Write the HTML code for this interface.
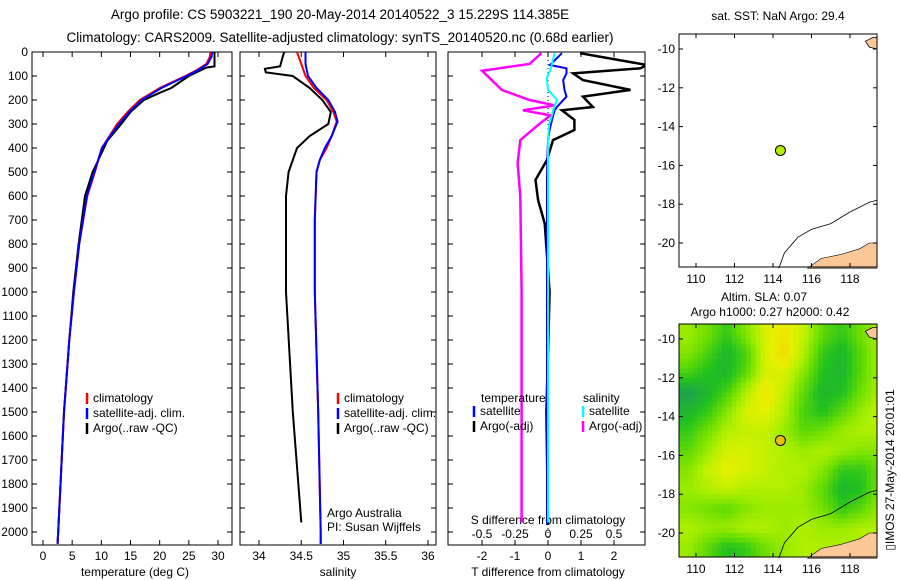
<!DOCTYPE html>
<html><head><meta charset="utf-8"><style>
body{margin:0;background:#fff}
svg{display:block;font-family:"Liberation Sans",sans-serif;font-size:12px}
</style></head><body>
<svg id="c" width="900" height="580" viewBox="0 0 900 580">
<text x="340" y="19" text-anchor="middle" style="font-size:13.5px">Argo profile: CS 5903221_190 20-May-2014 20140522_3 15.229S 114.385E</text>
<text x="340" y="42" text-anchor="middle" style="font-size:13.5px">Climatology: CARS2009. Satellite-adjusted climatology: synTS_20140520.nc (0.68d earlier)</text>
<g id="g"></g>
<text transform="translate(894,470) rotate(-90)" text-anchor="middle">▯IMOS 27-May-2014 20:01:01</text>
</svg>
<script>
// ---- data ----
const tClimDepth=[0,20,50,75,100,150,200,250,300,400,500,600,800,1000,1200,1500,2000,2050];
const tClim=[28.7,28.6,28.0,26.4,24.4,20.0,16.6,14.5,12.7,10.1,8.9,7.6,6.2,5.3,4.5,3.6,2.6,2.5];
const tSat=[29.0,28.9,28.2,26.6,24.6,20.3,16.9,14.8,13.0,10.1,8.8,7.5,6.2,5.3,4.5,3.6,2.6,2.5];
const tArgoDepth=[0,60,65,100,150,170,200,250,300,370,450,500,600,800,1000,1200,1500,2000,2040];
const tArgo=[29.4,29.4,28.0,25.0,22.0,20.0,17.3,15.0,13.4,11.0,9.5,8.5,7.2,6.1,5.2,4.5,3.6,2.6,2.5];
const sDepth=[0,50,100,150,200,250,290,350,400,450,500,700,1000,1500,2000,2050];
const sClim=[34.45,34.5,34.55,34.65,34.8,34.88,34.92,34.86,34.8,34.72,34.68,34.66,34.66,34.7,34.73,34.73];
const sSat=[34.55,34.55,34.58,34.68,34.82,34.9,34.93,34.86,34.78,34.72,34.68,34.66,34.66,34.7,34.73,34.73];
const sArgoDepth=[0,20,60,70,85,100,150,200,250,300,350,400,500,600,1000,1500,1960];
const sArgo=[34.3,34.28,34.25,34.07,34.08,34.4,34.6,34.75,34.85,34.82,34.6,34.45,34.35,34.32,34.32,34.4,34.5];
const dTDepth=[5,54,68,89,117,158,186,229,243,283,325,367,450,533,617,714,1000,1500,1970];
const dTArgo=[0.97,3.0,2.8,0.76,1.06,2.5,1.06,1.36,0.42,0.8,0.8,0.15,-0.03,-0.38,-0.3,-0.1,0.05,-0.05,0.0];
const dTSat=[0.42,0.06,0.56,0.56,0.46,0.5,0.56,0.27,0.2,0.12,0.05,0,-0.02,-0.03,-0.03,-0.03,-0.03,-0.03,-0.03];
const dSDepth=[5,50,78,110,158,200,222,243,264,297,367,464,600,1000,1500,1960];
const dSArgo=[-0.05,-0.14,-0.5,-0.44,-0.35,-0.14,0.05,-0.19,0.02,-0.06,-0.21,-0.23,-0.21,-0.2,-0.2,-0.2];
const dSSat=[0.05,0.03,0.015,-0.01,0,0.07,0.05,0.04,0.03,0.01,0,0,0,0,0,0];
const depthTicks=[0,100,200,300,400,500,600,700,800,900,1000,1100,1200,1300,1400,1500,1600,1700,1800,1900,2000];
const tTicks=[0,5,10,15,20,25,30];
const sTicks=[34,34.5,35,35.5,36];
const dTTicks=[-2,-1,0,1,2];
const dSTicks=[-0.5,-0.25,0,0.25,0.5];
const latTicks=[-10,-12,-14,-16,-18,-20];
const lonTicks=[110,112,114,116,118];
const argoLon=114.385, argoLat=-15.229;
const slaGrid=[
[0.45,0.35,0.2,0.4,0.6,0.7,0.55,0.3,0.2,0.35,0.5],
[0.4,0.25,0.1,0.25,0.6,0.75,0.5,0.2,0.1,0.3,0.5],
[0.25,0.15,0.1,0.3,0.6,0.6,0.4,0.15,0.1,0.3,0.5],
[0.0,0.1,0.25,0.5,0.7,0.55,0.3,0.1,0.15,0.35,0.5],
[0.1,0.2,0.4,0.6,0.65,0.5,0.25,0.15,0.3,0.45,0.55],
[0.2,0.35,0.5,0.55,0.55,0.45,0.3,0.35,0.45,0.5,0.5],
[0.3,0.45,0.6,0.6,0.55,0.5,0.45,0.5,0.45,0.4,0.4],
[0.4,0.55,0.65,0.6,0.55,0.5,0.5,0.4,0.2,0.2,0.35],
[0.45,0.5,0.55,0.5,0.5,0.5,0.45,0.3,0.1,0.15,0.4],
[0.4,0.35,0.3,0.4,0.45,0.45,0.45,0.35,0.2,0.3,0.45],
[0.5,0.45,0.45,0.5,0.5,0.45,0.5,0.45,0.45,0.5,0.5],
[0.45,0.3,0.15,0.2,0.35,0.45,0.5,0.5,0.5,0.5,0.5]];
const gridLon0=109.1, gridLat0=-9.25;
// ---- drawing ----
const NS='http://www.w3.org/2000/svg';const G=document.getElementById('g');
function el(t,a,p){const e=document.createElementNS(NS,t);for(const k in a)e.setAttribute(k,a[k]);(p||G).appendChild(e);return e;}
const Y0=52,Y1=545;const dy=d=>Y0+d*0.24;
function lin(v0,p0,v1,p1){return v=>p0+(v-v0)*(p1-p0)/(v1-v0);}
function line(xs,ds,fx,col,w,name,clip){const p=el('polyline',{points:xs.map((v,i)=>fx(v).toFixed(1)+','+dy(ds[i]).toFixed(1)).join(' '),fill:'none',stroke:col,'stroke-width':w,'clip-path':clip});

}
function txt(x,y,s,anc,name,par){const t=el('text',{x:x,y:y,'text-anchor':anc||'start'},par);t.textContent=s;

return t;}
function panel(x0,x1,name,labels){
 const r=el('rect',{x:x0,y:Y0,width:x1-x0,height:Y1-Y0,fill:'none',stroke:'#000'});
 
 
 depthTicks.forEach(d=>{el('line',{x1:x0,x2:x0+5,y1:dy(d),y2:dy(d),stroke:'#000'});el('line',{x1:x1,x2:x1-5,y1:dy(d),y2:dy(d),stroke:'#000'});
  if(labels)txt(x0-4,dy(d)+4,String(d),'end','depth-tick-label');});
 const c=el('clipPath',{id:'cl'+x0});el('rect',{x:x0,y:Y0,width:x1-x0,height:Y1-Y0},c);
 return 'url(#cl'+x0+')';
}
// panel 1
const fT=lin(0,43,30,218);const c1=panel(32,232,'temperature-panel',true);
tTicks.forEach(v=>{el('line',{x1:fT(v),x2:fT(v),y1:Y1,y2:Y1-5,stroke:'#000'});el('line',{x1:fT(v),x2:fT(v),y1:Y0,y2:Y0+5,stroke:'#000'});txt(fT(v),560,String(v),'middle','temp-tick-label');});
txt(135,576,'temperature (deg C)','middle','x-axis-title-temperature');
line(tArgo,tArgoDepth,fT,'#000',2,'temp-argo-line',c1);
line(tClim,tClimDepth,fT,'#f00',2,'temp-clim-line',c1);
line(tSat,tClimDepth,fT,'#00f',2,'temp-sat-line',c1);
function legend(x,y,items){items.forEach((it,i)=>{el('line',{x1:x,x2:x,y1:y+i*15-9,y2:y+i*15+2,stroke:it[0],'stroke-width':2.5});txt(x+6,y+i*15,it[1],'start','legend-entry');});}
legend(87,402,[['#f00','climatology'],['#00f','satellite-adj. clim.'],['#000','Argo(..raw -QC)']]);
// panel 2
const fS=lin(34,259,36,428);const c2=panel(240,436,'salinity-panel',false);
sTicks.forEach(v=>{el('line',{x1:fS(v),x2:fS(v),y1:Y1,y2:Y1-5,stroke:'#000'});el('line',{x1:fS(v),x2:fS(v),y1:Y0,y2:Y0+5,stroke:'#000'});txt(fS(v),560,String(v),'middle','sal-tick-label');});
txt(338,576,'salinity','middle','x-axis-title-salinity');
line(sArgo,sArgoDepth,fS,'#000',2,'sal-argo-line',c2);
line(sClim,sDepth,fS,'#f00',2,'sal-clim-line',c2);
line(sSat,sDepth,fS,'#00f',2,'sal-sat-line',c2);
legend(338,402,[['#f00','climatology'],['#00f','satellite-adj. clim.'],['#000','Argo(..raw -QC)']]);
txt(327,517,'Argo Australia','start','credit-line-1');txt(327,531,'PI: Susan Wijffels','start','credit-line-2');
// panel 3
const fD=lin(0,548,1,581);const fDS=lin(0,548,0.25,581);const c3=panel(448,645,'difference-panel',false);
el('line',{x1:548,x2:548,y1:Y0,y2:Y1,stroke:'#000','stroke-dasharray':'1,3'});
dTTicks.forEach(v=>{el('line',{x1:fD(v),x2:fD(v),y1:Y1,y2:Y1-5,stroke:'#000'});el('line',{x1:fD(v),x2:fD(v),y1:Y0,y2:Y0+5,stroke:'#000'});txt(fD(v),560,String(v),'middle','dT-tick-label');});
dSTicks.forEach(v=>{txt(fDS(v),538,String(v),'middle','dS-tick-label');});
txt(548,524,'S difference from climatology','middle','dS-axis-title');
txt(548,576,'T difference from climatology','middle','dT-axis-title');
line(dTArgo,dTDepth,fD,'#000',2.5,'dT-argo-line',c3);
line(dSArgo,dSDepth,fDS,'#f0f',2.5,'dS-argo-line',c3);
line(dTSat,dTDepth,fD,'#00f',2,'dT-sat-line',c3);
line(dSSat,dSDepth,fDS,'#0ff',2,'dS-sat-line',c3);
txt(481,402,'temperature','start','legend-header-t');txt(583,402,'salinity','start','legend-header-s');
[['#00f','satellite',474,415],['#000','Argo(-adj)',474,430],['#0ff','satellite',583,415],['#f0f','Argo(-adj)',583,430]].forEach(it=>{el('line',{x1:it[2],x2:it[2],y1:it[3]-9,y2:it[3]+2,stroke:it[0],'stroke-width':2.5});txt(it[2]+6,it[3],it[1],'start','legend-entry');});
// maps
function map(top,bot,titles,name,heat){
 const X0=679,X1=877;const fx=lin(110,696,118,850);const fy=lin(-10,top+15,-20,top+209);
 if(heat){const cols=[[0,[31,160,80]],[0.15,[32,192,32]],[0.35,[112,224,0]],[0.5,[176,240,0]],[0.65,[232,240,0]],[0.8,[240,208,0]],[1,[240,160,0]]];
  function col(v){for(let i=1;i<cols.length;i++){if(v<=cols[i][0]){const a=cols[i-1],b=cols[i],t=(v-a[0])/(b[0]-a[0]);return 'rgb('+a[1].map((c,k)=>Math.round(c+(b[1][k]-c)*t)).join(',')+')';}}return 'rgb(240,160,0)';}
  const R=slaGrid.length,C=slaGrid[0].length,sub=4;
  function val(r,c){r=Math.max(0,Math.min(R-1,r));c=Math.max(0,Math.min(C-1,c));const r0=Math.floor(r),c0=Math.floor(c),r1=Math.min(R-1,r0+1),c1=Math.min(C-1,c0+1),fr=r-r0,fc=c-c0;
   return slaGrid[r0][c0]*(1-fr)*(1-fc)+slaGrid[r0][c1]*(1-fr)*fc+slaGrid[r1][c0]*fr*(1-fc)+slaGrid[r1][c1]*fr*fc;}
  for(let r=0;r<R*sub;r++)for(let c=0;c<C*sub;c++){const lon=gridLon0+c/sub,lat=gridLat0-r/sub;const x=fx(lon),y=fy(lat);if(x>=X1||y>=bot)continue;
   const v=val((r+0.5)/sub-0.5,(c+0.5)/sub-0.5);
   const rc=el('rect',{x:x.toFixed(1),y:y.toFixed(1),width:(Math.min(fx(lon+1/sub),X1)-x+0.4).toFixed(1),height:(Math.min(fy(lat-1/sub),bot)-y+0.4).toFixed(1),fill:col(v)});
   
   }}
 const P=(lo,la)=>fx(lo).toFixed(1)+','+fy(la).toFixed(1);
 el('polygon',{points:[P(115.8,-21.3),P(116.5,-20.8),P(117.5,-20.6),P(118.5,-20.3),P(119,-20),P(119.4,-20),P(119.4,-21.3)].join(' '),fill:'#fcc898',stroke:'#000','stroke-width':0.6});
 el('polygon',{points:[P(118.8,-9.6),P(119.2,-9.4),P(119.4,-9.4),P(119.4,-10),P(119,-9.9)].join(' '),fill:'#fcc898',stroke:'#000','stroke-width':0.8});
 el('polyline',{points:[P(114.3,-21.3),P(114.6,-20.5),P(115.3,-19.7),P(116,-19.3),P(117,-19),P(118,-18.4),P(119,-17.9),P(119.4,-17.8)].join(' '),fill:'none',stroke:'#000','stroke-width':0.8});
 const b=el('rect',{x:X0,y:top,width:X1-X0,height:bot-top,fill:'none',stroke:'#000'});
 
 
 latTicks.forEach(v=>{el('line',{x1:X0,x2:X0+4,y1:fy(v),y2:fy(v),stroke:'#000'});el('line',{x1:X1,x2:X1-4,y1:fy(v),y2:fy(v),stroke:'#000'});txt(X0-4,fy(v)+4,String(v),'end','lat-tick-label');});
 lonTicks.forEach(v=>{el('line',{x1:fx(v),x2:fx(v),y1:top,y2:top+4,stroke:'#000'});el('line',{x1:fx(v),x2:fx(v),y1:bot,y2:bot-4,stroke:'#000'});txt(fx(v),bot+16,String(v),'middle','lon-tick-label');});
 const d=el('circle',{cx:fx(argoLon),cy:fy(argoLat),r:5,fill:heat?'#f0c000':'#b0f000',stroke:'#000'});
 
 
 titles.forEach(t=>txt(t[1],t[2],t[0],'middle','map-title'));
}
map(34,267,[['sat. SST: NaN Argo: 29.4',778,20]],'sst-map',false);
map(324,557,[['Altim. SLA: 0.07',764,301],['Argo h1000: 0.27 h2000: 0.42',770,316]],'sla-map',true);
</script>
</body></html>
